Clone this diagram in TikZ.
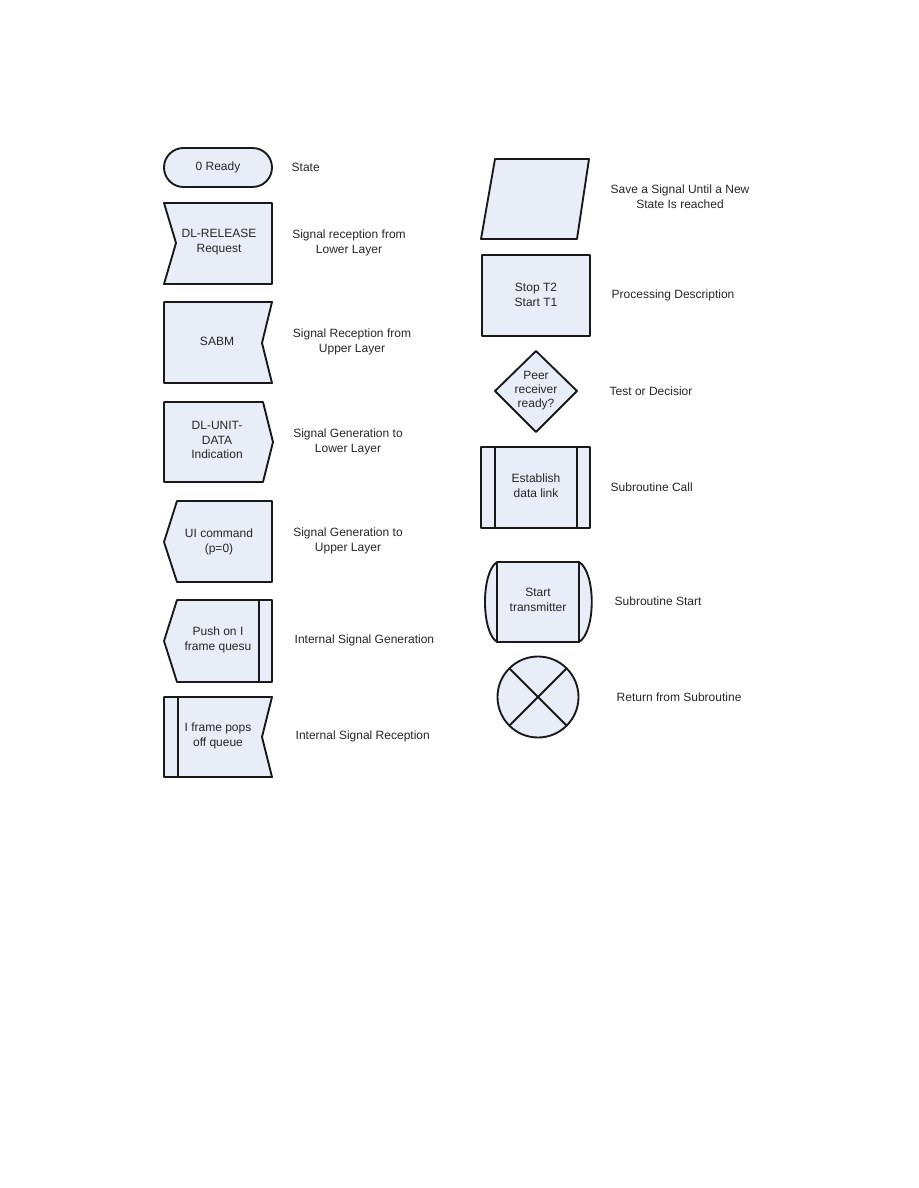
\documentclass[tikz,border=0pt]{standalone}
\usepackage{fontspec}
\setmainfont{Liberation Sans}
\usepackage{xcolor}
\usepackage{tikz}
\usetikzlibrary{shapes.geometric, positioning}
\definecolor{symfill}{RGB}{232,237,248}
\tikzstyle{symbol} = [draw=black!90, line width=1.4pt, fill=symfill, line join=round]
\tikzstyle{inner} = [font=\fontsize{9}{11}\selectfont, align=center, text=black!85]
\tikzstyle{desc} = [font=\fontsize{9}{11}\selectfont, align=center, text=black!85]

\begin{document}
\begin{tikzpicture}[x=0.75pt,y=-0.75pt]
\useasboundingbox (0,0) rectangle (918,1188);

% State
\draw[symbol, rounded corners=14.6pt] (164,148) rectangle (272,187);
\node[inner] (ready) at (218,167) {0 Ready};
\node[desc, anchor=west] (state) at (287,167) {State};

% Signal reception from lower layer
\draw[symbol] (164,203) -- (272,203) -- (272,284) -- (164,284) -- (176,243) -- cycle;
\node[inner] (release) at (219,242) {DL-RELEASE\\Request};
\node[desc] (recvlow) at (349,243) {Signal reception from\\Lower Layer};

% Signal reception from upper layer
\draw[symbol] (164,302) -- (272,302) -- (262,343) -- (272,383) -- (164,383) -- cycle;
\node[inner] (sabm) at (217,341) {SABM};
\node[desc] (recvup) at (352,342) {Signal Reception from\\Upper Layer};

% Signal generation to lower layer
\draw[symbol] (164,402) -- (263,402) -- (273,442) -- (263,482) -- (164,482) -- cycle;
\node[inner] (unitdata) at (217,440) {DL-UNIT-\\DATA\\Indication};
\node[desc] (genlow) at (348,442) {Signal Generation to\\Lower Layer};

% Signal generation to upper layer
\draw[symbol] (177,501) -- (272,501) -- (272,582) -- (177,582) -- (164,542) -- cycle;
\node[inner] (uicmd) at (219,542) {UI command\\(p=0)};
\node[desc] (genup) at (348,541) {Signal Generation to\\Upper Layer};

% Internal signal generation
\draw[symbol] (177,600) -- (272,600) -- (272,682) -- (177,682) -- (164,641) -- cycle;
\draw[symbol] (259,600) -- (259,682);
\node[inner] (push) at (218,640) {Push on I\\frame quesu};
\node[desc, anchor=west] (intgen) at (290,640) {Internal Signal Generation};

% Internal signal reception
\draw[symbol] (164,697) -- (272,697) -- (262,737) -- (272,777) -- (164,777) -- cycle;
\draw[symbol] (178,697) -- (178,777);
\node[inner] (pops) at (218,736) {I frame pops\\off queue};
\node[desc, anchor=west] (intrecv) at (291,736) {Internal Signal Reception};

% Save
\draw[symbol] (495,159) -- (589,159) -- (577,239) -- (481,239) -- cycle;
\node[desc] (save) at (680,197) {Save a Signal Until a New\\State Is reached};

% Processing
\draw[symbol] (482,255) rectangle (590,336);
\node[inner] (timers) at (536,295) {Stop T2\\Start T1};
\node[desc, anchor=west] (proc) at (607,295) {Processing Description};

% Decision
\draw[symbol] (536,351) -- (577,391) -- (536,432) -- (495,391) -- cycle;
\node[inner, font=\fontsize{9}{10.5}\selectfont] (peer) at (536,391) {Peer\\receiver\\ready?};
\node[desc, anchor=west] (test) at (605,391) {Test or Decisior};

% Subroutine call
\draw[symbol] (481,447) rectangle (590,528);
\draw[symbol] (495,447) -- (495,528);
\draw[symbol] (577,447) -- (577,528);
\node[inner] (estab) at (536,486) {Establish\\data link};
\node[desc, anchor=west] (subcall) at (606,487) {Subroutine Call};

% Subroutine start
\draw[symbol] (497,562) -- (579,562) .. controls (596,572) and (596,632) .. (579,642)
  -- (497,642) .. controls (481,632) and (481,572) .. (497,562) -- cycle;
\draw[symbol] (497,562) -- (497,642);
\draw[symbol] (579,562) -- (579,642);
\node[inner] (trans) at (538,600) {Start\\transmitter};
\node[desc, anchor=west] (substart) at (610,601) {Subroutine Start};

% Return
\node[symbol, circle, minimum size=60.75pt, inner sep=0pt, outer sep=0pt] (ret) at (538,697) {};
\draw[symbol] (ret.north west) -- (ret.south east);
\draw[symbol] (ret.north east) -- (ret.south west);
\node[desc, anchor=west] (subret) at (612,697) {Return from Subroutine};
\end{tikzpicture}
\end{document}
